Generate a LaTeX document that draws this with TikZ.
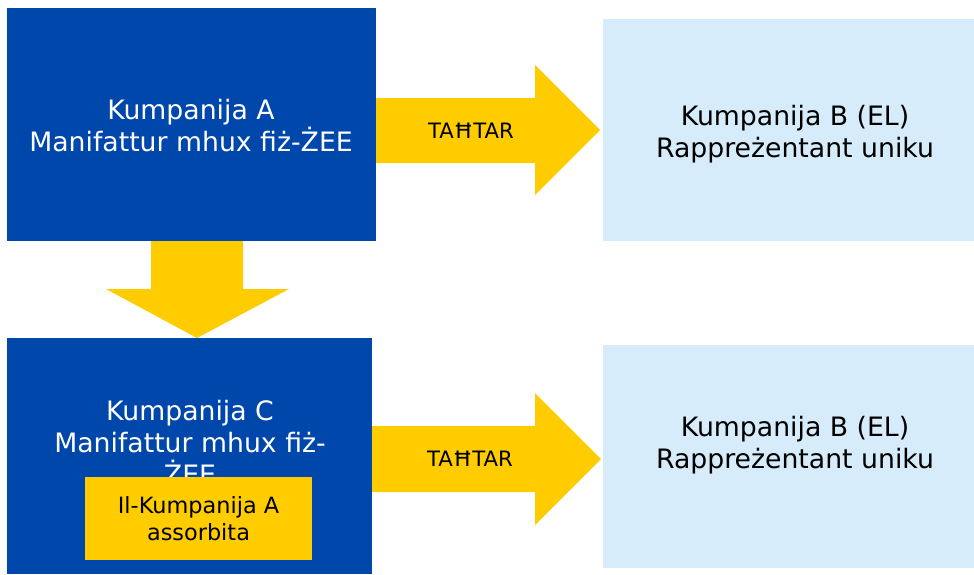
\documentclass[tikz,border=0pt]{standalone}
\usepackage{fontspec}
\setmainfont{DejaVu Sans}
\definecolor{eublue}{RGB}{0,71,171}
\definecolor{euyellow}{RGB}{255,204,0}
\definecolor{eulight}{RGB}{214,236,250}
\begin{document}
\begin{tikzpicture}[x=1pt,y=-1pt,
  blk/.style={inner sep=0pt, outer sep=0pt, anchor=north west},
  bigtxt/.style={align=center, inner sep=0pt, font=\fontsize{26.7}{32}\selectfont},
  arrtxt/.style={inner sep=0pt, font=\fontsize{21.2}{25}\selectfont, text=black},
  smalltxt/.style={align=center, inner sep=0pt, font=\fontsize{22.4}{26.5}\selectfont, text=black}]
\useasboundingbox (0,0) rectangle (974,574);
% boxes
\node[blk, fill=eublue, minimum width=369pt, minimum height=233pt] (A) at (7,8) {};
\node[blk, fill=eulight, minimum width=371pt, minimum height=222pt] (B1) at (603,19) {};
\node[blk, fill=eublue, minimum width=365pt, minimum height=236pt] (C) at (7,338) {};
\node[blk, fill=eulight, minimum width=371pt, minimum height=223pt] (B2) at (603,345) {};
% arrows
\fill[euyellow] (376,98) -- (535,98) -- (535,65) -- (600,130) -- (535,195) -- (535,163) -- (376,163) -- cycle;
\fill[euyellow] (151,241) -- (243,241) -- (243,289) -- (289,289) -- (197,338) -- (106,289) -- (151,289) -- cycle;
\fill[euyellow] (372,426) -- (535,426) -- (535,393) -- (601,459) -- (535,525) -- (535,492) -- (372,492) -- cycle;
% texts
\node[bigtxt, text=white] (tA) at (191,126) {Kumpanija A\\Manifattur mhux fiż-ŻEE};
\node[bigtxt, text=black] (tB1) at (795,134.5) {Kumpanija B (EL)\\Rappreżentant uniku};
\node[bigtxt, text=white] (tC) at (190,442) {Kumpanija C\\Manifattur mhux fiż-\\ŻEE};
\node[bigtxt, text=black] (tB2) at (795,445.5) {Kumpanija B (EL)\\Rappreżentant uniku};
\node[arrtxt] (l1) at (471,131) {TAĦTAR};
\node[arrtxt] (l2) at (470,459) {TAĦTAR};
% absorbed box
\node[blk, fill=euyellow, minimum width=227pt, minimum height=83pt] (Y) at (85,477) {};
\node[smalltxt] (tY) at (Y.center) {Il-Kumpanija A\\assorbita};
\end{tikzpicture}
\end{document}
